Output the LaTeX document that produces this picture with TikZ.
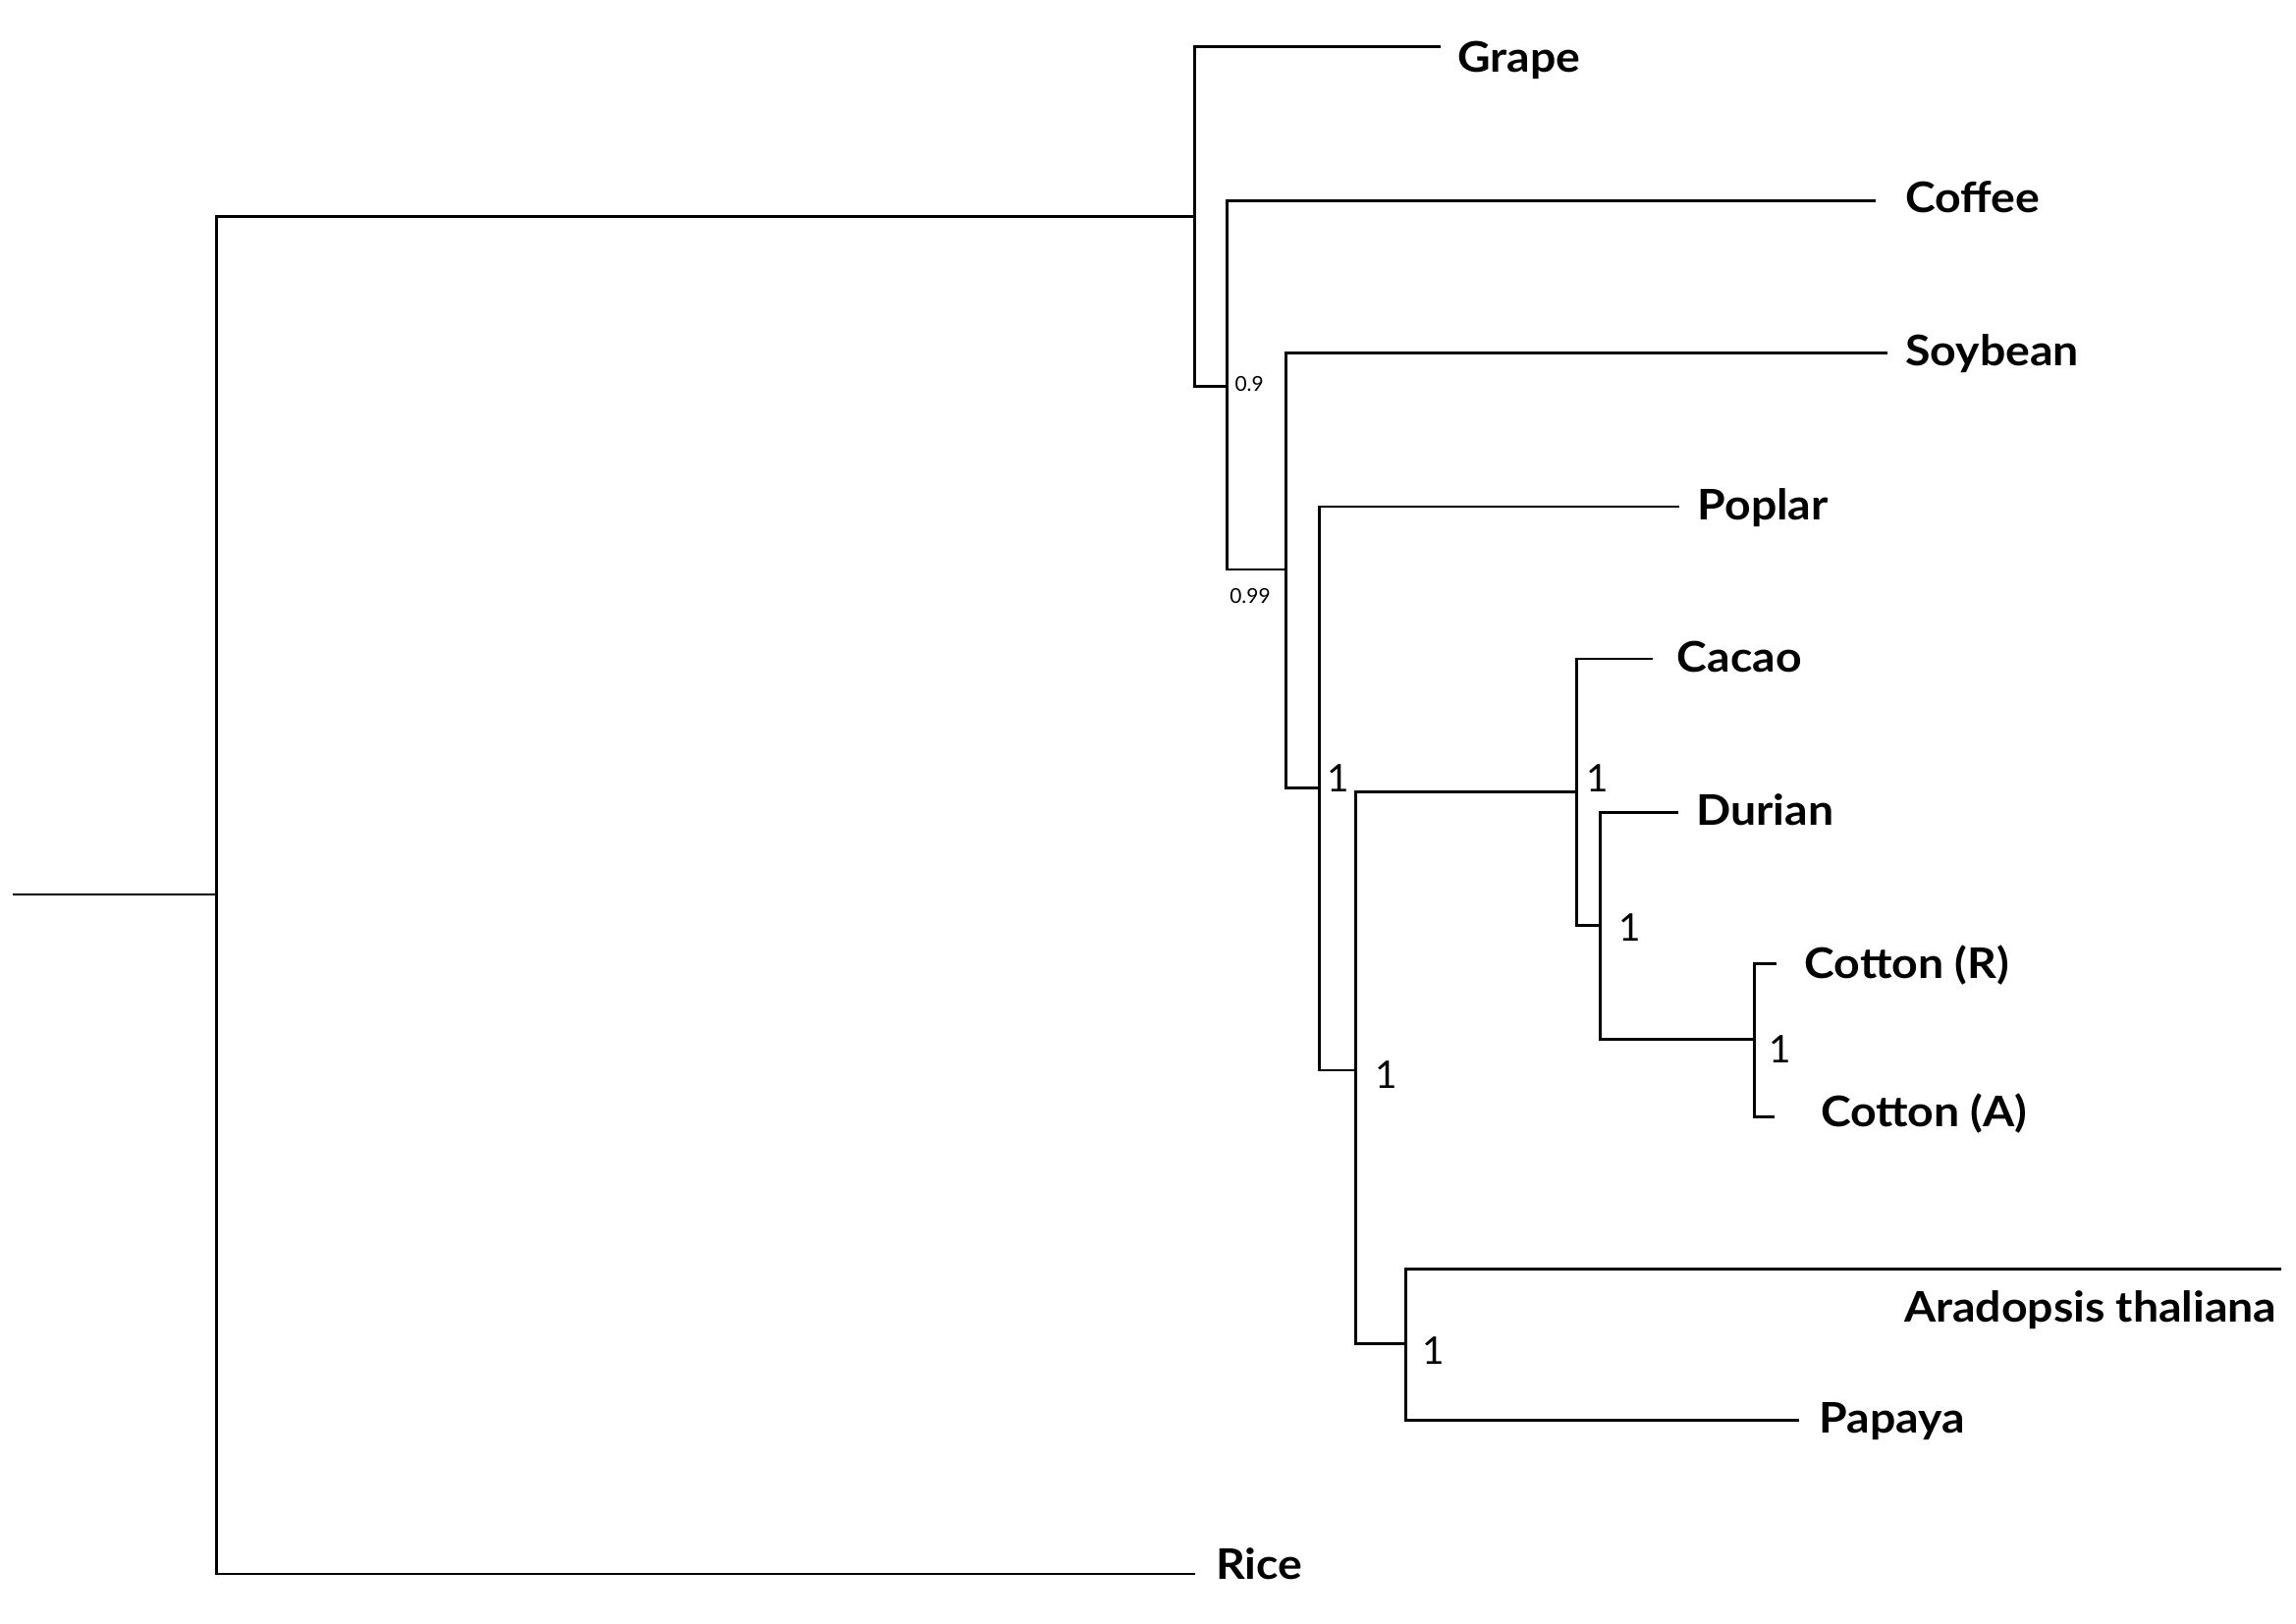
\documentclass[tikz,border=0pt]{standalone}
\usepackage{fontspec}
\setmainfont{Lato}
\newfontfamily\leaffont[FakeStretch=1.08]{Lato}
\begin{document}
\begin{tikzpicture}[x=0.5pt,y=-0.5pt,
  branch/.style={line width=0.95pt,line cap=rect},
  leaf/.style={anchor=base west,inner sep=0pt,font=\leaffont\fontsize{14.4}{17}\selectfont\bfseries},
  supp/.style={anchor=base west,inner sep=0pt,font=\fontsize{13}{15}\selectfont},
  smallsupp/.style={anchor=base west,inner sep=0pt,font=\fontsize{7}{8}\selectfont}]
\useasboundingbox (0,0) rectangle (1568,1109);
% internal nodes
\coordinate (rs) at (10,611);
\coordinate (R) at (148,611);
\coordinate (A) at (816,148);
\coordinate (B) at (838,264);
\coordinate (C) at (878,389);
\coordinate (D) at (901,538);
\coordinate (E) at (926,731);
\coordinate (F) at (1077,541);
\coordinate (G) at (1093,632);
\coordinate (H) at (1198,710);
\coordinate (I) at (960,918);
% tips
\coordinate (tRice) at (815,1075);
\coordinate (tGrape) at (983,32);
\coordinate (tCoffee) at (1280,137);
\coordinate (tSoy) at (1288,241);
\coordinate (tPoplar) at (1146,346);
\coordinate (tCacao) at (1128,450);
\coordinate (tDurian) at (1145,555);
\coordinate (tCotR) at (1212,658);
\coordinate (tCotA) at (1211,763);
\coordinate (tArab) at (1557,867);
\coordinate (tPapaya) at (1228,970);
% branches
\draw[branch] (rs) -- (R);
\draw[branch] (R) |- (A);
\draw[branch] (R) |- (tRice);
\draw[branch] (A) |- (tGrape);
\draw[branch] (A) |- (B);
\draw[branch] (B) |- (tCoffee);
\draw[branch] (B) |- (C);
\draw[branch] (C) |- (tSoy);
\draw[branch] (C) |- (D);
\draw[branch] (D) |- (tPoplar);
\draw[branch] (D) |- (E);
\draw[branch] (E) |- (F);
\draw[branch] (E) |- (I);
\draw[branch] (F) |- (tCacao);
\draw[branch] (F) |- (G);
\draw[branch] (G) |- (tDurian);
\draw[branch] (G) |- (H);
\draw[branch] (H) |- (tCotR);
\draw[branch] (H) |- (tCotA);
\draw[branch] (I) |- (tArab);
\draw[branch] (I) |- (tPapaya);
% leaf labels
\node[leaf] (lGrape) at (995,49.6) {Grape};
\node[leaf] (lCoffee) at (1301,145.3) {Coffee};
\node[leaf] (lSoy) at (1301,250) {Soybean};
\node[leaf] (lPoplar) at (1159,355) {Poplar};
\node[leaf] (lCacao) at (1145,458.8) {Cacao};
\node[leaf] (lDurian) at (1158,563.6) {Durian};
\node[leaf] (lCotR) at (1232,668) {Cotton (R)};
\node[leaf] (lCotA) at (1243,769.7) {Cotton (A)};
\node[leaf] (lArab) at (1300,902.7) {Aradopsis thaliana};
\node[leaf] (lPapaya) at (1242,979) {Papaya};
\node[leaf] (lRice) at (830,1078.6) {Rice};
% support values
\node[smallsupp] (sB) at (843,267) {0.9};
\node[smallsupp] (sC) at (839.5,411.8) {0.99};
\node[supp] (sD) at (906,541) {1};
\node[supp] (sF) at (1083,541) {1};
\node[supp] (sG) at (1105,642.5) {1};
\node[supp] (sH) at (1208,726) {1};
\node[supp] (sE) at (939,743.7) {1};
\node[supp] (sI) at (971,931.7) {1};
\end{tikzpicture}
\end{document}
